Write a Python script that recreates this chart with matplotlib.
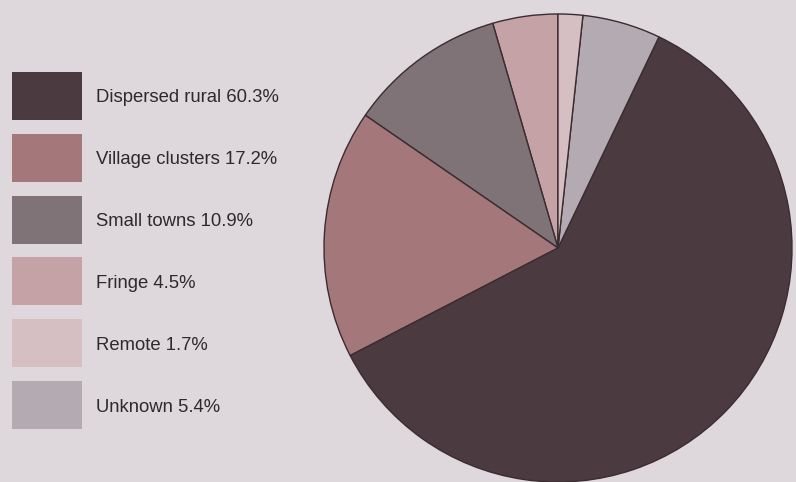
import matplotlib.pyplot as plt
from matplotlib.patches import Rectangle

# settlement types, in the order they are listed on the left
labels = ['Dispersed rural', 'Village clusters', 'Small towns', 'Fringe', 'Remote', 'Unknown']
shares = [60.3, 17.2, 10.9, 4.5, 1.7, 5.4]
colours = ['#4b3b41', '#a4777a', '#7f7377', '#c4a2a5', '#d5bfc3', '#b3abb1']

# order of the wedges, counter-clockwise from twelve o'clock
pie_order = [3, 2, 1, 0, 5, 4]

bg = '#ded7dc'
fig = plt.figure(figsize=(7.96, 4.82), dpi=100, facecolor=bg)
ax = fig.add_axes([0, 0, 1, 1])
ax.set_facecolor(bg)

ax.pie([shares[i] for i in pie_order],
       colors=[colours[i] for i in pie_order],
       startangle=90, counterclock=True,
       center=(558, 234), radius=234,
       wedgeprops=dict(edgecolor='#3a2c31', linewidth=1.0),
       frame=True)
ax.set_xlim(0, 796)
ax.set_ylim(0, 482)
ax.set_aspect('equal')
ax.axis('off')

# key on the left
top = 482 - 72
step = 61.8
for k, (name, val, col) in enumerate(zip(labels, shares, colours)):
    y0 = top - k * step
    ax.add_patch(Rectangle((12, y0 - 48), 70, 48, facecolor=col, edgecolor='none'))
    ax.text(96, y0 - 26, f'{name} {val}%', fontsize=13.3, color='#2e2a2c',
            family='Liberation Sans', va='center', ha='left')

fig.savefig('out.png', dpi=100, facecolor=bg)
